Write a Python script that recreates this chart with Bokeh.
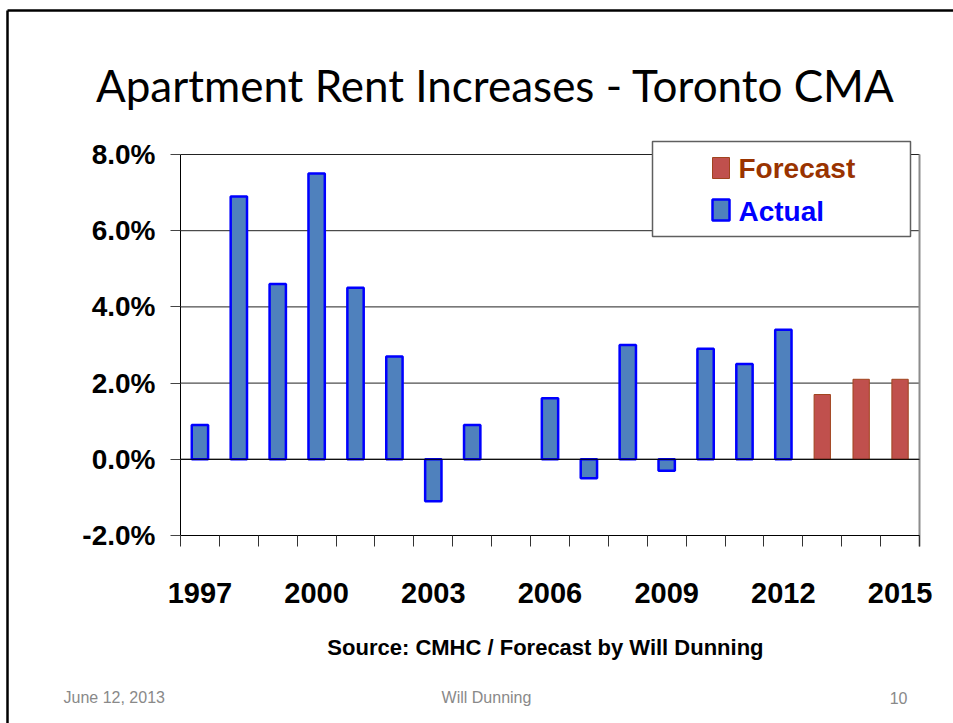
from bokeh.plotting import figure
from bokeh.models import Range1d, FixedTicker, Label, BoxAnnotation, ColumnDataSource
from bokeh.embed import file_html
from bokeh.resources import INLINE

# ---- data ----
nan = float("nan")
actual_years = [1997, 1998, 1999, 2000, 2001, 2002, 2003, 2004, 2005, 2006, 2007, 2008, 2009, 2010, 2011, 2012]
actual_vals = [0.9, 6.9, 4.6, 7.5, 4.5, 2.7, -1.1, 0.9, nan, 1.6, -0.5, 3.0, -0.3, 2.9, 2.5, 3.4]
forecast_years = [2013, 2014, 2015]
forecast_vals = [1.7, 2.1, 2.1]
x_tick_years = [1997, 2000, 2003, 2006, 2009, 2012, 2015]
y_ticks = [-2, 0, 2, 4, 6, 8]
y_tick_labels = ["-2.0%", "0.0%", "2.0%", "4.0%", "6.0%", "8.0%"]

title_text = "Apartment Rent Increases - Toronto CMA"
source_text = "Source:  CMHC / Forecast by Will Dunning"
footer_left = "June 12, 2013"
footer_mid = "Will Dunning"
footer_right = "10"

# ---- layout (page pixels) ----
X0, X1 = 1996.5, 2015.5
Y0, Y1 = -2, 8
FL, FR, FT, FB = 180, 919, 154, 535   # plot-area edges in page px
W, H = 953, 723


def X(px):
    return X0 + (px - FL) * (X1 - X0) / (FR - FL)


def Y(py):
    return Y1 - (py - FT) * (Y1 - Y0) / (FB - FT)


p = figure(width=W, height=H, output_backend="svg", toolbar_location=None,
           x_range=Range1d(X(0), X(W)), y_range=Range1d(Y(H), Y(0)),
           min_border=0, min_border_left=0, min_border_right=0,
           min_border_top=0, min_border_bottom=0)
p.outline_line_color = None
p.background_fill_color = "white"
p.border_fill_color = "white"
p.grid.visible = False

# slide frame (top and left edges)
p.segment(x0=[X(7), X(7)], y0=[Y(10), Y(10)], x1=[X(W + 50), X(7)], y1=[Y(10), Y(H + 50)],
          line_color="black", line_width=2.5)

# horizontal grid lines from the y ticks
grid_vals = [t for t in y_ticks if t > Y0]
p.segment(x0=[X0] * len(grid_vals), x1=[X1] * len(grid_vals), y0=grid_vals, y1=grid_vals,
          line_color="#222222", line_width=1)

# y axis
ya = p.yaxis[0]
ya.fixed_location = X0
ya.bounds = (Y0, Y1)
ya.ticker = FixedTicker(ticks=y_ticks)
ya.major_label_overrides = {t: l for t, l in zip(y_ticks, y_tick_labels)}
ya.major_label_text_font = "Liberation Sans"
ya.major_label_text_font_style = "bold"
ya.major_label_text_font_size = "28px"
ya.major_label_text_color = "black"
ya.major_label_standoff = 15
ya.major_tick_out = 10
ya.major_tick_in = 0
ya.major_tick_line_color = "#444444"
ya.minor_tick_line_color = None
ya.axis_line_color = "black"

# x axis
xa = p.xaxis[0]
xa.fixed_location = Y0
xa.bounds = (X0, X1)
bounds = [X0 + i for i in range(int(X1 - X0) + 1)]
xa.ticker = FixedTicker(ticks=x_tick_years, minor_ticks=bounds)
xa.major_label_overrides = {y: str(y) for y in x_tick_years}
xa.major_label_text_font = "Liberation Sans"
xa.major_label_text_font_style = "bold"
xa.major_label_text_font_size = "29px"
xa.major_label_text_color = "black"
xa.major_label_standoff = 36
xa.major_tick_out = 0
xa.major_tick_in = 0
xa.minor_tick_out = 11
xa.minor_tick_in = 0
xa.minor_tick_line_color = "#333333"
xa.minor_tick_line_width = 1
xa.axis_line_color = "black"

# right edge of plot area
p.segment(x0=[X1], x1=[X1], y0=[Y(546)], y1=[Y1], line_color="#8c8c8c", line_width=2)

# bars
src_a = ColumnDataSource(dict(x=actual_years, top=actual_vals))
src_f = ColumnDataSource(dict(x=forecast_years, top=forecast_vals))
p.vbar(x="x", top="top", bottom=0, width=0.42, source=src_a,
       fill_color="#4F81BD", line_color="#0000FF", line_width=2.5)
p.vbar(x="x", top="top", bottom=0, width=0.42, source=src_f,
       fill_color="#C0504D", line_color="#A0441E", line_width=1)

# zero line on top
p.segment(x0=[X0], x1=[X1], y0=[0], y1=[0], line_color="black", line_width=1)

# legend
p.add_layout(BoxAnnotation(left=X(652), right=X(910), top=Y(141), bottom=Y(236),
                           fill_color="white", fill_alpha=1.0,
                           line_color="#5f5f5f", line_alpha=1.0, line_width=1.5, level="overlay"))
p.add_layout(BoxAnnotation(left=X(712), right=X(729), top=Y(157), bottom=Y(178),
                           fill_color="#C0504D", fill_alpha=1.0,
                           line_color="#A0441E", line_alpha=1.0, line_width=1, level="overlay"))
p.add_layout(BoxAnnotation(left=X(712), right=X(729), top=Y(199), bottom=Y(220),
                           fill_color="#4F81BD", fill_alpha=1.0,
                           line_color="#0000FF", line_alpha=1.0, line_width=2.5, level="overlay"))
p.add_layout(Label(x=X(738), y=Y(168), text="Forecast", text_align="left", text_baseline="middle",
                   text_font="Liberation Sans", text_font_style="bold", text_font_size="28px",
                   text_color="#993300", level="overlay"))
p.add_layout(Label(x=X(738), y=Y(211), text="Actual", text_align="left", text_baseline="middle",
                   text_font="Liberation Sans", text_font_style="bold", text_font_size="28px",
                   text_color="#0000FF", level="overlay"))

# title, source, footer
p.add_layout(Label(x=X(495), y=Y(84), text=title_text, text_align="center", text_baseline="alphabetic",
                   text_font="Lato", text_font_size="44px", text_color="black"))
p.add_layout(Label(x=X(548), y=Y(647), text=source_text, text_align="center", text_baseline="middle",
                   text_font="Liberation Sans", text_font_style="bold", text_font_size="22px",
                   text_color="black"))
p.add_layout(Label(x=X(63), y=Y(697), text=footer_left, text_align="left", text_baseline="middle",
                   text_font="Liberation Sans", text_font_size="16px", text_color="#898989"))
p.add_layout(Label(x=X(486), y=Y(697), text=footer_mid, text_align="center", text_baseline="middle",
                   text_font="Liberation Sans", text_font_size="16px", text_color="#898989"))
p.add_layout(Label(x=X(907), y=Y(697), text=footer_right, text_align="right", text_baseline="middle",
                   text_font="Liberation Sans", text_font_size="16px", text_color="#898989"))

open("out.html", "w").write(file_html(p, INLINE))
